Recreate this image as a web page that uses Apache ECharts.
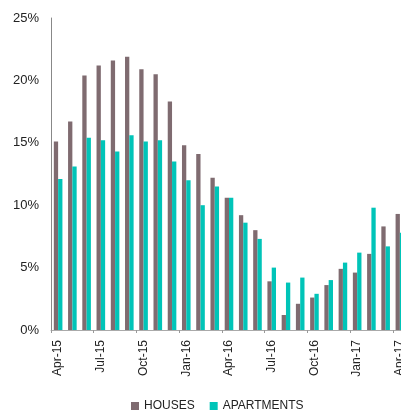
<!DOCTYPE html>
<html>
<head>
<meta charset="utf-8">
<script src="https://cdn.jsdelivr.net/npm/echarts@6/dist/echarts.min.js"></script>
<style>html,body{margin:0;padding:0;background:#fff}#c{width:401px;height:412px}</style>
</head>
<body>
<div id="c"></div>
<script>
var categories = ['Apr-15','May-15','Jun-15','Jul-15','Aug-15','Sep-15','Oct-15','Nov-15','Dec-15','Jan-16','Feb-16','Mar-16','Apr-16','May-16','Jun-16','Jul-16','Aug-16','Sep-16','Oct-16','Nov-16','Dec-16','Jan-17','Feb-17','Mar-17','Apr-17'];
var houses = [15.1,16.7,20.4,21.2,21.6,21.9,20.9,20.5,18.3,14.8,14.1,12.2,10.6,9.2,8.0,3.9,1.2,2.1,2.6,3.6,4.9,4.6,6.1,8.3,9.3];
var apartments = [12.1,13.1,15.4,15.2,14.3,15.6,15.1,15.2,13.5,12.0,10.0,11.5,10.6,8.6,7.3,5.0,3.8,4.2,2.9,4.0,5.4,6.2,9.8,6.7,7.8];
var yTicks = [0,5,10,15,20,25];

var chart = echarts.init(document.getElementById('c'), null, {renderer:'canvas'});
chart.setOption({
  animation: false,
  textStyle: {fontFamily: 'Liberation Sans, Arial, sans-serif'},
  grid: {left: 51, width: 356, top: 18, bottom: 82, containLabel: false, outerBoundsMode: 'none'},
  legend: {
    data: ['HOUSES','APARTMENTS'],
    left: 126, top: 395,
    icon: 'rect', itemWidth: 8, itemHeight: 8, itemGap: 15,
    textStyle: {fontSize: 12, color: '#222', fontFamily: 'Liberation Sans, Arial, sans-serif'}
  },
  xAxis: {
    type: 'category',
    data: categories,
    axisLine: {lineStyle: {color: '#aaa', width: 1}},
    axisTick: {show: true, interval: 2, length: 3, lineStyle: {color: '#999'}},
    axisLabel: {interval: 2, rotate: 90, fontSize: 12, color: '#222', margin: 10}
  },
  yAxis: {
    type: 'value', min: yTicks[0], max: yTicks[yTicks.length-1], interval: 5,
    axisLine: {show: true, lineStyle: {color: '#888', width: 1}},
    axisTick: {show: false},
    splitLine: {show: false},
    axisLabel: {fontSize: 13, color: '#222', margin: 12, formatter: '{value}%'}
  },
  series: [
    {name: 'HOUSES', type: 'bar', data: houses, barWidth: 4.3, barGap: '0%',
     itemStyle: {color: '#7F6B70'}},
    {name: 'APARTMENTS', type: 'bar', data: apartments, barWidth: 4.3,
     itemStyle: {color: '#00C4B8'}}
  ]
});
</script>
</body>
</html>
